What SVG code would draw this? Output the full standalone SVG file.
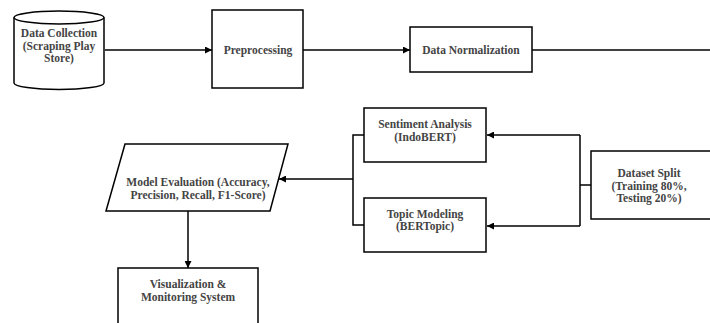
<svg xmlns="http://www.w3.org/2000/svg" width="710" height="323" viewBox="0 0 710 323">
<defs>
<marker id="ah" viewBox="0 0 10 10" refX="10" refY="5" markerWidth="7" markerHeight="7" markerUnits="userSpaceOnUse" orient="auto">
<path d="M0,0 L10,5 L0,10 z" fill="#000"/>
</marker>
</defs>
<style>
.n{fill:#fff;stroke:#000;stroke-width:1.5}
.t{font-family:"Liberation Serif",serif;font-weight:bold;font-size:11.5px;fill:#444;text-anchor:middle}
.c{fill:none;stroke:#000;stroke-width:1.5}
</style>
<rect width="710" height="323" fill="#fff"/>
<g id="connectors">
<line class="c" x1="105" y1="50" x2="212" y2="50" marker-end="url(#ah)"/>
<line class="c" x1="303" y1="50" x2="410" y2="50" marker-end="url(#ah)"/>
<line class="c" x1="532" y1="50" x2="712" y2="50"/>
<polyline class="c" points="591,185 580,185"/>
<polyline class="c" points="580,135 580,226"/>
<line class="c" x1="580" y1="135" x2="487" y2="135" marker-end="url(#ah)"/>
<line class="c" x1="580" y1="226" x2="487" y2="226" marker-end="url(#ah)"/>
<polyline class="c" points="364,135 353,135 353,225 364,225"/>
<line class="c" x1="353" y1="179" x2="279" y2="179" marker-end="url(#ah)"/>
<line class="c" x1="188" y1="211" x2="188" y2="268" marker-end="url(#ah)"/>
</g>
<g id="data-collection">
<path class="n" d="M14,17.5 L14,83 A45,6.5 0 0 0 104,83 L104,17.5 A45,6.5 0 0 0 14,17.5 Z"/>
<path class="c" d="M14,17.5 A45,6.5 0 0 0 104,17.5"/>
<text class="t" x="59" y="37">Data Collection</text>
<text class="t" x="59" y="50">(Scraping Play</text>
<text class="t" x="59" y="62">Store)</text>
</g>
<g id="preprocessing">
<rect class="n" x="212" y="10" width="91" height="78"/>
<text class="t" x="258" y="54">Preprocessing</text>
</g>
<g id="data-normalization">
<rect class="n" x="410" y="27" width="122" height="45"/>
<text class="t" x="471" y="54">Data Normalization</text>
</g>
<g id="sentiment-analysis">
<rect class="n" x="364" y="108" width="122" height="54"/>
<text class="t" x="425" y="128">Sentiment Analysis</text>
<text class="t" x="425" y="141">(IndoBERT)</text>
</g>
<g id="topic-modeling">
<rect class="n" x="364" y="198" width="122" height="54"/>
<text class="t" x="425" y="218">Topic Modeling</text>
<text class="t" x="425" y="230">(BERTopic)</text>
</g>
<g id="dataset-split">
<rect class="n" x="591" y="151" width="124" height="68"/>
<text class="t" x="649" y="177">Dataset Split</text>
<text class="t" x="649" y="190">(Training 80%,</text>
<text class="t" x="649" y="202">Testing 20%)</text>
</g>
<g id="model-evaluation">
<polygon class="n" points="125,144 288,144 270,211 106,211"/>
<text class="t" x="198" y="186">Model Evaluation (Accuracy,</text>
<text class="t" x="198" y="199">Precision, Recall, F1-Score)</text>
</g>
<g id="visualization">
<rect class="n" x="118" y="268" width="140" height="58"/>
<text class="t" x="188" y="288">Visualization &amp;</text>
<text class="t" x="188" y="301">Monitoring System</text>
</g>
</svg>
